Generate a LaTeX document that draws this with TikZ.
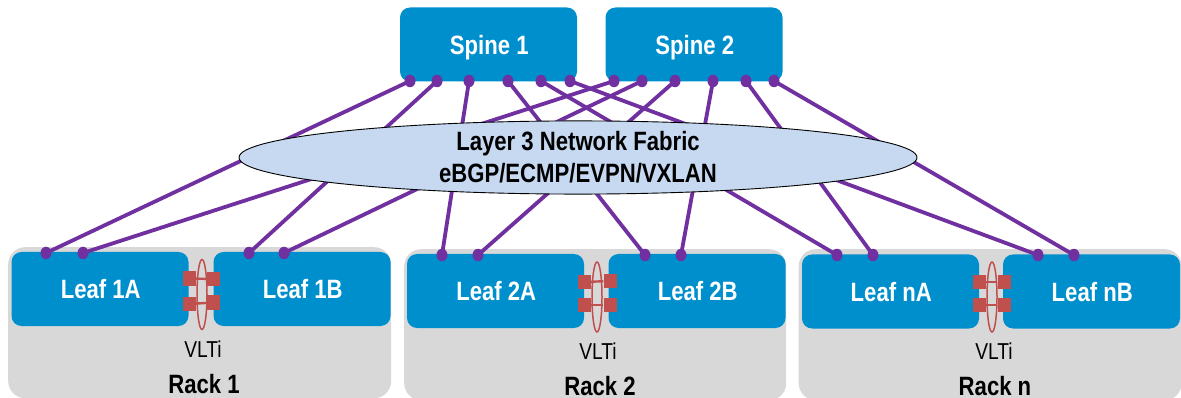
\documentclass[tikz,border=0pt]{standalone}
\usepackage{fontspec}
\usetikzlibrary{shapes.geometric}
\setmainfont{Liberation Sans}[FakeStretch=0.835]
\definecolor{switchblue}{HTML}{008FCD}
\definecolor{rackgray}{HTML}{D8D8D8}
\definecolor{linkpurple}{HTML}{7030A0}
\definecolor{fabricblue}{HTML}{C6D9F1}
\definecolor{vltred}{HTML}{C0504D}
\tikzset{
  x=1pt,y=-1pt,
  rackbox/.style={anchor=north west,fill=rackgray,rounded corners=17pt,minimum width=383pt,minimum height=151pt,inner sep=0pt},
  switchbox/.style={fill=switchblue,rounded corners=10pt,minimum width=177pt,minimum height=74pt,inner sep=0pt,text=white,text depth=0pt,font=\fontsize{26.5}{30}\selectfont\bfseries,execute at begin node=\hspace*{1.5pt}},
  portdot/.style={ellipse,fill=linkpurple,minimum width=11pt,minimum height=12.5pt,inner sep=0pt},
  link/.style={draw=linkpurple,line width=3.8pt},
  fabric/.style={ellipse,draw=black,line width=0.9pt,fill=fabricblue,minimum width=678pt,minimum height=71pt,inner sep=0pt,align=center,font=\fontsize{26.5}{32}\selectfont\bfseries},
  vltport/.style={fill=vltred,minimum width=13pt,minimum height=14.5pt,inner sep=0pt},
  vltlink/.style={draw=vltred,line width=2.4pt},
  vltring/.style={ellipse,draw=vltred,line width=1.5pt,minimum width=10pt,minimum height=70pt,inner sep=0pt},
  vltlabel/.style={inner sep=0pt,font=\fontsize{23}{26}\selectfont},
  racklabel/.style={inner sep=0pt,font=\fontsize{26.5}{30}\selectfont\bfseries}
}
\begin{document}
\begin{tikzpicture}
\useasboundingbox (0,0) rectangle (1181,398);
\clip (0,0) rectangle (1181,398);
% racks
\node[rackbox] (rack1) at (8,247) {};
\node[rackbox,minimum width=382pt] (rack2) at (404,249) {};
\node[rackbox] (rackn) at (798.5,249) {};
% switches
\node[switchbox] (spine1) at (488.5,44.5) {Spine 1};
\node[switchbox] (spine2) at (694,44.5) {Spine 2};
\node[switchbox] (leaf1a) at (100,289) {Leaf 1A};
\node[switchbox] (leaf1b) at (302,289) {Leaf 1B};
\node[switchbox] (leaf2a) at (495.5,291) {Leaf 2A};
\node[switchbox] (leaf2b) at (697,291) {Leaf 2B};
\node[switchbox] (leafna) at (890.5,291.5) {Leaf nA};
\node[switchbox] (leafnb) at (1091.5,291.5) {Leaf nB};
% spine ports
\foreach \n/\x in {a/410,b/437,c/469,d/508,e/541,f/570}{\node[portdot] (s1\n) at (\x,81) {};}
\foreach \n/\x in {a/614,b/642,c/675,d/713,e/746,f/774}{\node[portdot] (s2\n) at (\x,81) {};}
% leaf ports
\node[portdot] (l1a1) at (46,253) {};
\node[portdot] (l1a2) at (83,253) {};
\node[portdot] (l1b1) at (249,253) {};
\node[portdot] (l1b2) at (284,253) {};
\node[portdot] (l2a1) at (442,255) {};
\node[portdot] (l2a2) at (478,255) {};
\node[portdot] (l2b1) at (645,255) {};
\node[portdot] (l2b2) at (681,255) {};
\node[portdot] (lna1) at (837,255) {};
\node[portdot] (lna2) at (873,255) {};
\node[portdot] (lnb1) at (1038,255) {};
\node[portdot] (lnb2) at (1074,255) {};
% links
\draw[link] (s1a.center) -- (l1a1.center);
\draw[link] (s1b.center) -- (l1b1.center);
\draw[link] (s1c.center) -- (l2a1.center);
\draw[link] (s1d.center) -- (l2b1.center);
\draw[link] (s1e.center) -- (lna1.center);
\draw[link] (s1f.center) -- (lnb1.center);
\draw[link] (s2a.center) -- (l1a2.center);
\draw[link] (s2b.center) -- (l1b2.center);
\draw[link] (s2c.center) -- (l2a2.center);
\draw[link] (s2d.center) -- (l2b2.center);
\draw[link] (s2e.center) -- (lna2.center);
\draw[link] (s2f.center) -- (lnb2.center);
% fabric
\node[fabric] (fabric) at (578,157.5) {Layer 3 Network Fabric\\eBGP/ECMP/EVPN/VXLAN};
% VLTi rack 1
\node[vltport] (v1tl) at (189,278.5) {};
\node[vltport] (v1tr) at (213.5,279) {};
\node[vltport] (v1bl) at (189,304) {};
\node[vltport] (v1br) at (213.5,302.5) {};
\draw[vltlink] (v1tl) -- (v1tr);
\draw[vltlink] (v1bl) -- (v1br);
\node[vltring] (v1ring) at (202,294.5) {};
\node[vltlabel] (v1label) at (203,349) {VLTi};
\node[racklabel] (r1label) at (204,384) {Rack 1};
% VLTi rack 2
\node[vltport] (v2tl) at (584,282) {};
\node[vltport] (v2tr) at (610,281) {};
\node[vltport] (v2bl) at (584,305) {};
\node[vltport] (v2br) at (610,305) {};
\draw[vltlink] (v2tl) -- (v2tr);
\draw[vltlink] (v2bl) -- (v2br);
\node[vltring] (v2ring) at (597,297) {};
\node[vltlabel] (v2label) at (598,351) {VLTi};
\node[racklabel] (r2label) at (600,386) {Rack 2};
% VLTi rack n
\node[vltport] (vntl) at (979,282) {};
\node[vltport] (vntr) at (1004,282) {};
\node[vltport] (vnbl) at (979,305) {};
\node[vltport] (vnbr) at (1004,305) {};
\draw[vltlink] (vntl) -- (vntr);
\draw[vltlink] (vnbl) -- (vnbr);
\node[vltring] (vnring) at (992,297) {};
\node[vltlabel] (vnlabel) at (994,351) {VLTi};
\node[racklabel] (rnlabel) at (995,386) {Rack n};
\end{tikzpicture}
\end{document}
